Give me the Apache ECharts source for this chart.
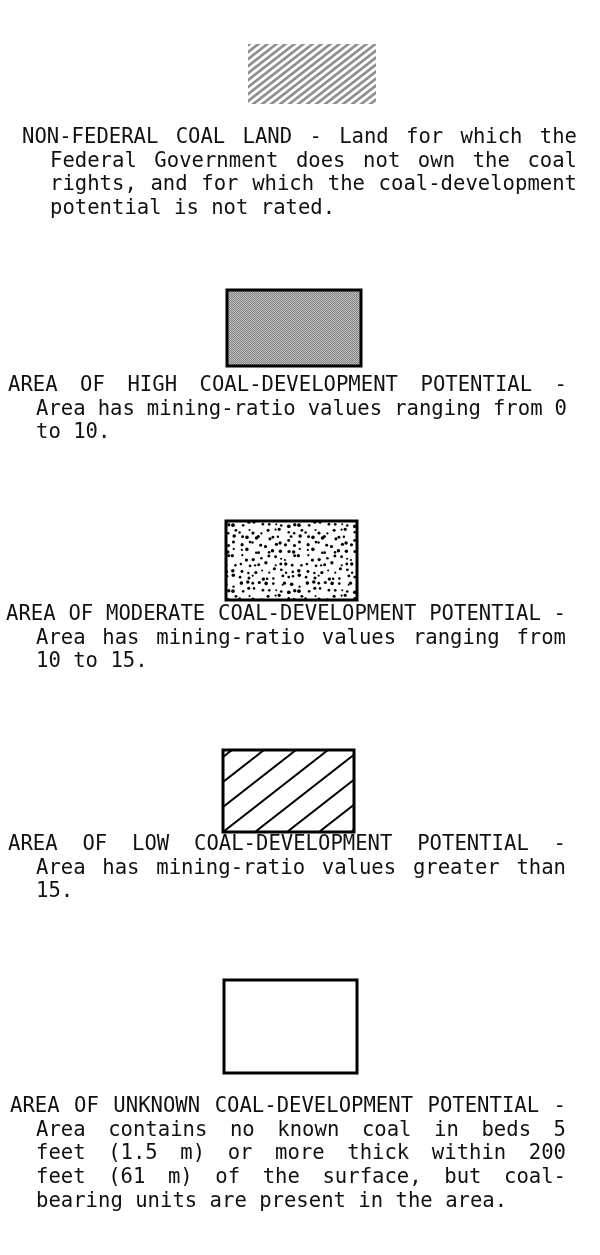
<!DOCTYPE html>
<html><head><meta charset="utf-8">
<script src="https://cdn.jsdelivr.net/npm/echarts@6/dist/echarts.min.js"></script>
<style>html,body{margin:0;padding:0;background:#fff;}#chart{width:600px;height:1255px;}</style>
</head><body><div id="chart"></div>
<script>
// ---- content (legend entries) ----
const categories = ['NON-FEDERAL', 'HIGH', 'MODERATE', 'LOW', 'UNKNOWN'];
const textNonFederal = [
  'NON-FEDERAL COAL LAND - Land for which the',
  'Federal Government does not own the coal',
  'rights, and for which the coal-development',
  'potential is not rated.'
];
const textHigh = [
  'AREA OF HIGH COAL-DEVELOPMENT POTENTIAL -',
  'Area has mining-ratio values ranging from 0',
  'to 10.'
];
const textModerate = [
  'AREA OF MODERATE COAL-DEVELOPMENT POTENTIAL -',
  'Area has mining-ratio values ranging from',
  '10 to 15.'
];
const textLow = [
  'AREA OF LOW COAL-DEVELOPMENT POTENTIAL -',
  'Area has mining-ratio values greater than',
  '15.'
];
const textUnknown = [
  'AREA OF UNKNOWN COAL-DEVELOPMENT POTENTIAL -',
  'Area contains no known coal in beds 5',
  'feet (1.5 m) or more thick within 200',
  'feet (61 m) of the surface, but coal-',
  'bearing units are present in the area.'
];
const swatchKinds = ['grayHatch', 'halftone', 'stipple', 'hatch', 'blank'];

// ---- layout ----
const entryTexts = [textNonFederal, textHigh, textModerate, textLow, textUnknown];
const boxRects = [[248, 44, 128, 60], [227, 290, 134, 76], [226, 521, 131, 79], [223, 750, 131, 82], [224, 980, 133, 93]];
const firstX = [22, 8, 6, 8, 10];
const indentX = [50, 36, 36, 36, 36];
const rightX = [577, 567, 566, 566, 566];
const firstY = [136, 384, 613, 843, 1105];
const lineGap = 23.7;
const FS = 20.6;
const FONT = FS + 'px "DejaVu Sans Mono"';

const mc = document.createElement('canvas').getContext('2d');
mc.font = FONT;
const cw = mc.measureText('MMMMMMMMMM').width / 10;

function hatchTile(w, h, color, lw, phase) {
  const c = document.createElement('canvas');
  c.width = w; c.height = h;
  const g = c.getContext('2d');
  g.strokeStyle = color; g.lineWidth = lw; g.lineCap = 'butt';
  for (let k = -2; k <= 1; k++) {
    g.beginPath();
    g.moveTo(k * w + phase, h);
    g.lineTo(k * w + phase + w, 0);
    g.moveTo(k * w + phase - w, 2 * h);
    g.lineTo(k * w + phase + 2 * w, -h);
    g.stroke();
  }
  return c;
}
function halftoneTile() {
  const c = document.createElement('canvas');
  c.width = 2; c.height = 2;
  const g = c.getContext('2d');
  g.fillStyle = '#bdbdbd'; g.fillRect(0, 0, 2, 2);
  g.fillStyle = '#858585'; g.fillRect(0, 0, 1, 1); g.fillRect(1, 1, 1, 1);
  return c;
}
function stippleTile() {
  const S = 66, n = 10, cell = S / n;
  const c = document.createElement('canvas');
  c.width = S; c.height = S;
  const g = c.getContext('2d');
  g.fillStyle = '#000';
  let seed = 12345;
  const rnd = () => { seed = (seed * 1103515245 + 12345) % 2147483648; return seed / 2147483648; };
  for (let i = 0; i < n; i++) for (let j = 0; j < n; j++) {
    const x = (i + 0.1 + 0.8 * rnd()) * cell, y = (j + 0.1 + 0.8 * rnd()) * cell;
    const r = 1.0 + 0.85 * rnd();
    for (const dx of [-S, 0, S]) for (const dy of [-S, 0, S]) {
      g.beginPath(); g.arc(x + dx, y + dy, r, 0, Math.PI * 2); g.fill();
    }
  }
  return c;
}
function mod(a, m) { return ((a % m) + m) % m; }

function swatchFill(kind, r) {
  if (kind === 'grayHatch') return { image: hatchTile(9, 7, '#8f8f8f', 2.6, 0), repeat: 'repeat' };
  if (kind === 'halftone') return { image: halftoneTile(), repeat: 'repeat' };
  if (kind === 'stipple') return { image: stippleTile(), repeat: 'repeat' };
  if (kind === 'hatch') {
    const w = 32, h = 25;
    const phase = mod(r[0] + (w / h) * (r[1] + r[3]), w);
    return { image: hatchTile(w, h, '#000', 2, phase), repeat: 'repeat' };
  }
  return '#fff';
}

const elements = [];
categories.forEach((cat, i) => {
  const r = boxRects[i];
  const kind = swatchKinds[i];
  elements.push({
    type: 'rect', silent: true,
    shape: { x: r[0], y: r[1], width: r[2], height: r[3] },
    style: { fill: swatchFill(kind, r), stroke: kind === 'grayHatch' ? null : '#000', lineWidth: kind === 'grayHatch' ? 0 : 3 }
  });
  const lines = entryTexts[i];
  lines.forEach((line, li) => {
    const x0 = li === 0 ? firstX[i] : indentX[i];
    const y = firstY[i] + li * lineGap + 1.5;
    const words = line.split(' ');
    const justify = li < lines.length - 1 && words.length > 1;
    const letters = words.reduce((s, w) => s + w.length, 0);
    let gap = cw;
    if (justify) {
      gap = (rightX[i] - x0 - letters * cw) / (words.length - 1);
      gap = Math.max(gap, cw * 0.7);
    }
    let x = x0;
    words.forEach(w => {
      elements.push({
        type: 'text', silent: true,
        style: { text: w, x: x, y: y, font: FONT, fill: '#111', textAlign: 'left', textVerticalAlign: 'middle' }
      });
      x += w.length * cw + gap;
    });
  });
});

const chart = echarts.init(document.getElementById('chart'), null, { renderer: 'canvas' });
chart.setOption({ backgroundColor: '#fff', animation: false, graphic: { elements: elements } });
</script></body></html>
